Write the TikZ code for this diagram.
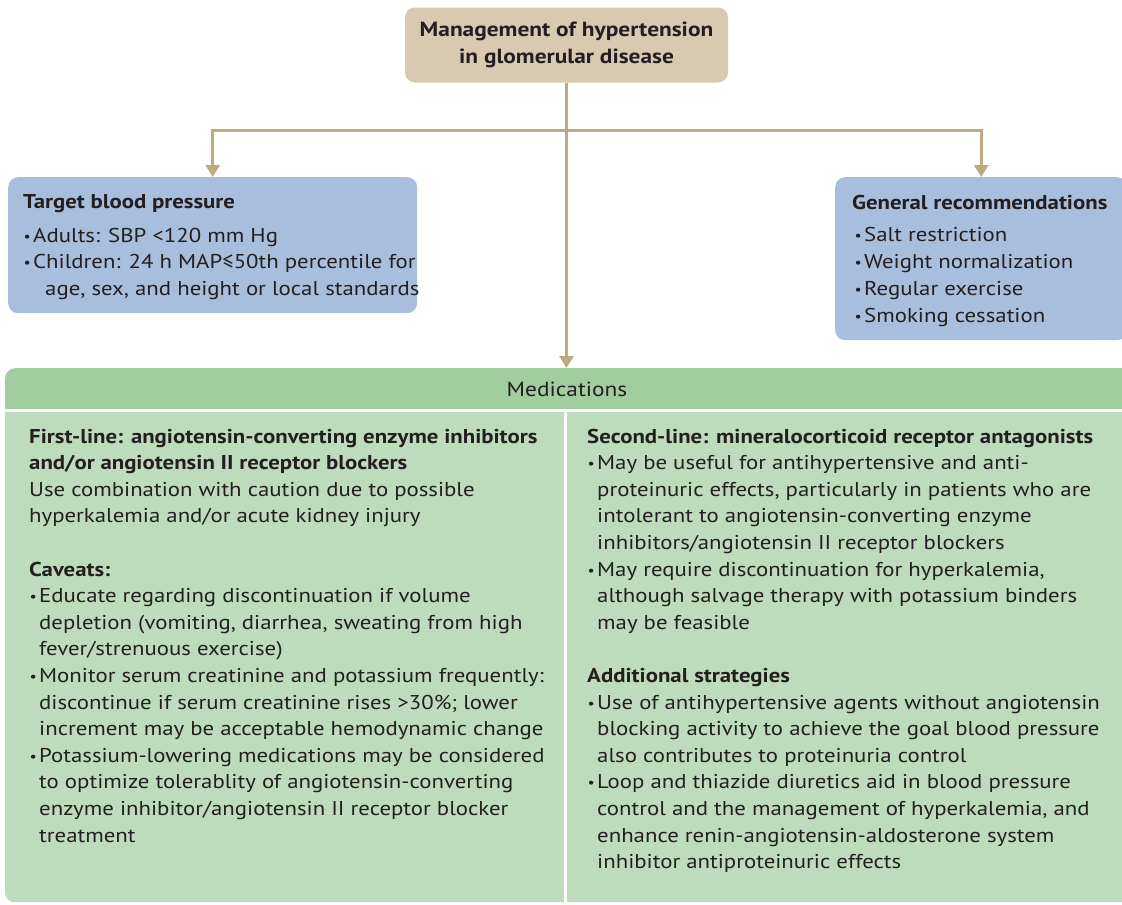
\documentclass[tikz,border=0pt]{standalone}
\usepackage{fontspec}
\setmainfont{PT Sans}[FakeStretch=1.14]
\usetikzlibrary{arrows.meta,calc}
\definecolor{tanbox}{HTML}{D8CAB0}
\definecolor{tanline}{HTML}{BFA97F}
\definecolor{bluebox}{HTML}{A8BEDD}
\definecolor{medhead}{HTML}{A1CD9F}
\definecolor{medlight}{HTML}{BDDCBB}
\definecolor{ink}{HTML}{231F20}
\newcommand\bul{\makebox[10pt][l]{\hspace{0.5pt}\raisebox{1pt}{\scalebox{0.7}{\textbullet}}}}
\newcommand\ind{\hspace*{10pt}}
\newcommand\lines[1]{\begin{tabular}[t]{@{}l@{}}#1\end{tabular}}
\tikzset{
  conn/.style={draw=tanline, line width=3pt},
  tip/.style={-{Triangle[width=14pt,length=12pt]}},
  titlebox/.style={fill=tanbox, rounded corners=10pt, minimum width=323pt, minimum height=75pt, align=center, text=ink, font=\bfseries\fontsize{20.5}{27}\selectfont, inner sep=0pt},
  bluepanel/.style={fill=bluebox, rounded corners=10pt, anchor=north west, inner sep=0pt},
  txt/.style={anchor=base west, inner sep=0pt, text=ink, font=\fontsize{20}{26.6}\selectfont},
  boxtxt/.style={txt, font=\fontsize{20}{27}\selectfont},
}
\begin{document}
\begin{tikzpicture}[x=1pt,y=-1pt]
\useasboundingbox (0,0) rectangle (1122,905);
\clip (0,0) rectangle (1122,905);
% title
\node[titlebox] (title) at (566.5,45) {Management of hypertension\\in glomerular disease};
% side boxes
\node[bluepanel, minimum width=409pt, minimum height=136pt] (tbp) at (8,177) {};
\node[bluepanel, minimum width=292pt, minimum height=163pt] (gen) at (835,177) {};
% medications box
\node[fill=medhead, rounded corners=10pt, anchor=north west, inner sep=0pt, minimum width=1135pt, minimum height=534pt] (medbox) at (5,368) {};
\begin{scope}
  \clip[rounded corners=10pt] (5,368) rectangle (1140,902);
  \fill[medlight] (5,411) rectangle (1140,902);
\end{scope}
\draw[white, line width=2.5pt] (medbox.west |- 0,410.5) -- (medbox.east |- 0,410.5);
\draw[white, line width=2.5pt] (565.5,410.5) -- (565.5,905);
\node[text=ink, font=\fontsize{20.5}{24}\selectfont, inner sep=0pt] (med) at (567,389) {Medications};
% connectors
\coordinate (split) at (title.south |- 0,130);
\draw[conn] (title.south) -- (split);
\draw[conn, tip] (split) -| (tbp.north);
\draw[conn, tip] (split) -| (gen.north);
\draw[conn, tip] (split) -- (split |- medbox.north);
% left box text
\node[boxtxt] (tbpT) at (23,208) {\textbf{Target blood pressure}};
\node[boxtxt, font=\fontsize{20}{26.6}\selectfont] (tbpA) at (23,242) {\lines{\bul Adults: SBP <120 mm Hg\\
\bul Children: 24 h MAP≤50th percentile for\\
\hspace*{22pt}age, sex, and height or local standards}};
% right box text
\node[boxtxt] (genT) at (852,209) {\textbf{General recommendations}};
\node[boxtxt] (genA) at (854,241) {\lines{\bul Salt restriction\\
\bul Weight normalization\\
\bul Regular exercise\\
\bul Smoking cessation}};
% medications left column
\node[txt] (first) at (29,443) {\lines{\textbf{First-line: angiotensin-converting enzyme inhibitors}\\
\textbf{and/or angiotensin II receptor blockers}\\
Use combination with caution due to possible\\
hyperkalemia and/or acute kidney injury}};
\node[txt] (cav) at (29,576) {\lines{\textbf{Caveats:}\\
\bul Educate regarding discontinuation if volume\\
\ind depletion (vomiting, diarrhea, sweating from high\\
\ind fever/strenuous exercise)\\
\bul Monitor serum creatinine and potassium frequently:\\
\ind discontinue if serum creatinine rises >30\%; lower\\
\ind increment may be acceptable hemodynamic change\\
\bul Potassium-lowering medications may be considered\\
\ind to optimize tolerablity of angiotensin-converting\\
\ind enzyme inhibitor/angiotensin II receptor blocker\\
\ind treatment}};
% medications right column
\node[txt] (second) at (587,443) {\lines{\textbf{Second-line: mineralocorticoid receptor antagonists}\\
\bul May be useful for antihypertensive and anti-\\
\ind proteinuric effects, particularly in patients who are\\
\ind intolerant to angiotensin-converting enzyme\\
\ind inhibitors/angiotensin II receptor blockers\\
\bul May require discontinuation for hyperkalemia,\\
\ind although salvage therapy with potassium binders\\
\ind may be feasible}};
\node[txt] (add) at (587,682.4) {\lines{\textbf{Additional strategies}\\
\bul Use of antihypertensive agents without angiotensin\\
\ind blocking activity to achieve the goal blood pressure\\
\ind also contributes to proteinuria control\\
\bul Loop and thiazide diuretics aid in blood pressure\\
\ind control and the management of hyperkalemia, and\\
\ind enhance renin-angiotensin-aldosterone system\\
\ind inhibitor antiproteinuric effects}};
\end{tikzpicture}
\end{document}
